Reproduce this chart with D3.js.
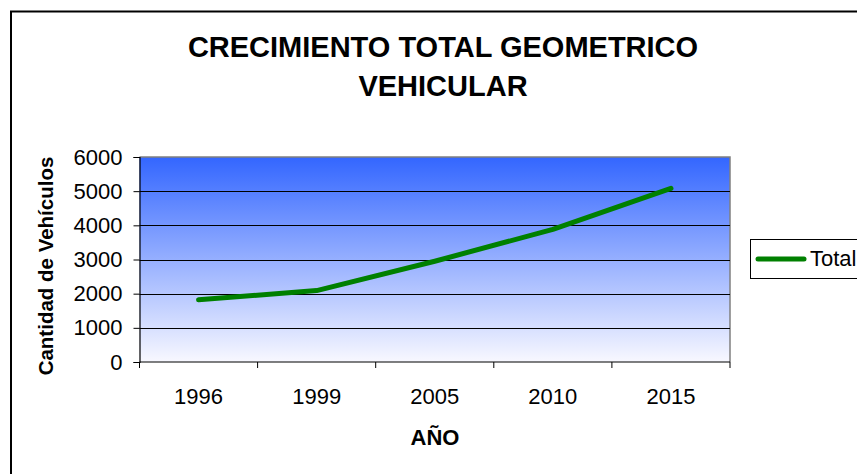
<!DOCTYPE html>
<html>
<head>
<meta charset="utf-8">
<script src="https://cdn.jsdelivr.net/npm/d3@7"></script>
<style>
  html, body { margin: 0; padding: 0; background: #fff; }
  svg { display: block; font-family: Arial, "Liberation Sans", sans-serif; }
</style>
</head>
<body>
<svg id="chart" width="857" height="474"></svg>
<script>
const categories = ["1996", "1999", "2005", "2010", "2015"];
const totalValues = [1820, 2090, 2950, 3880, 5080];
const yTicks = [0, 1000, 2000, 3000, 4000, 5000, 6000];
const titleLines = ["CRECIMIENTO TOTAL GEOMETRICO", "VEHICULAR"];
const yTitle = "Cantidad de Vehículos";
const xTitle = "AÑO";
const seriesName = "Total";

const svg = d3.select("#chart");
const plot = { left: 139.5, right: 730, top: 157, bottom: 362 };

// outer chart border
svg.append("rect").attr("x", 11).attr("y", 11.5).attr("width", 900).attr("height", 500)
  .attr("fill", "#fff").attr("stroke", "#000").attr("stroke-width", 2);

// gradient
const defs = svg.append("defs");
const grad = defs.append("linearGradient").attr("id", "bg").attr("x1", 0).attr("y1", 0).attr("x2", 0).attr("y2", 1);
grad.append("stop").attr("offset", "0%").attr("stop-color", "#3366ff");
grad.append("stop").attr("offset", "100%").attr("stop-color", "#f8f8ff");

const x = d3.scaleBand().domain(categories).range([plot.left, plot.right]).padding(0);
const y = d3.scaleLinear().domain([0, 6000]).range([plot.bottom, plot.top]);

svg.append("rect").attr("x", plot.left).attr("y", plot.top)
  .attr("width", plot.right - plot.left).attr("height", plot.bottom - plot.top)
  .attr("fill", "url(#bg)");

// plot border top/right gray
svg.append("path")
  .attr("d", `M${plot.left},${plot.top}H${plot.right}V${plot.bottom}`)
  .attr("fill", "none").attr("stroke", "#808080").attr("stroke-width", 1.5);

// gridlines
svg.append("g").selectAll("line").data(yTicks.filter(d => d > 0 && d < 6000)).join("line")
  .attr("x1", plot.left).attr("x2", plot.right)
  .attr("y1", d => Math.round(y(d)) + 0.5).attr("y2", d => Math.round(y(d)) + 0.5)
  .attr("stroke", "#000").attr("stroke-width", 1);

// y axis
const yAxis = d3.axisLeft(y).tickValues(yTicks).tickSize(6).tickPadding(11).tickFormat(d3.format("d"));
const gy = svg.append("g").attr("transform", `translate(${plot.left},0)`).call(yAxis);
gy.select(".domain").attr("stroke", "#000").attr("stroke-width", 1.2);
gy.selectAll(".tick line").attr("stroke", "#000");
gy.selectAll(".tick text").attr("font-size", 22).attr("fill", "#000")
  .attr("font-family", "Arial, 'Liberation Sans', sans-serif");

// x axis with ticks at band boundaries
const gx = svg.append("g").attr("transform", `translate(0,${plot.bottom})`);
gx.append("line").attr("x1", plot.left).attr("x2", plot.right).attr("y1", 0).attr("y2", 0)
  .attr("stroke", "#000").attr("stroke-width", 1.2);
const bounds = categories.map(c => x(c)).concat([x(categories[categories.length - 1]) + x.bandwidth()]);
gx.selectAll(".bt").data(bounds).join("line").attr("class", "bt")
  .attr("x1", d => d).attr("x2", d => d).attr("y1", 0).attr("y2", 6)
  .attr("stroke", "#000");
gx.selectAll(".xl").data(categories).join("text").attr("class", "xl")
  .attr("x", d => x(d) + x.bandwidth() / 2).attr("y", 42)
  .attr("text-anchor", "middle").attr("font-size", 22).attr("fill", "#000")
  .text(d => d);

// line
const line = d3.line().x((d, i) => x(categories[i]) + x.bandwidth() / 2).y(d => y(d));
svg.append("path").datum(totalValues).attr("d", line)
  .attr("fill", "none").attr("stroke", "#008000").attr("stroke-width", 5)
  .attr("stroke-linecap", "round").attr("stroke-linejoin", "round");

// title
svg.append("g").selectAll("text").data(titleLines).join("text")
  .attr("x", 443).attr("y", (d, i) => 57 + i * 39)
  .attr("text-anchor", "middle").attr("font-size", 29).attr("font-weight", "bold")
  .attr("fill", "#000").text(d => d);

// axis titles
svg.append("text").attr("transform", `translate(53,266) rotate(-90)`)
  .attr("text-anchor", "middle").attr("font-size", 20.5).attr("font-weight", "bold")
  .text(yTitle);
svg.append("text").attr("x", 435).attr("y", 445)
  .attr("text-anchor", "middle").attr("font-size", 22).attr("font-weight", "bold")
  .text(xTitle);

// legend
const lg = svg.append("g");
lg.append("rect").attr("x", 750.5).attr("y", 239.5).attr("width", 120).attr("height", 39)
  .attr("fill", "#fff").attr("stroke", "#000").attr("stroke-width", 1);
lg.append("line").attr("x1", 758).attr("x2", 804).attr("y1", 259).attr("y2", 259)
  .attr("stroke", "#008000").attr("stroke-width", 5).attr("stroke-linecap", "round");
lg.append("text").attr("x", 810).attr("y", 266).attr("font-size", 22).text(seriesName);
</script>
</body>
</html>
